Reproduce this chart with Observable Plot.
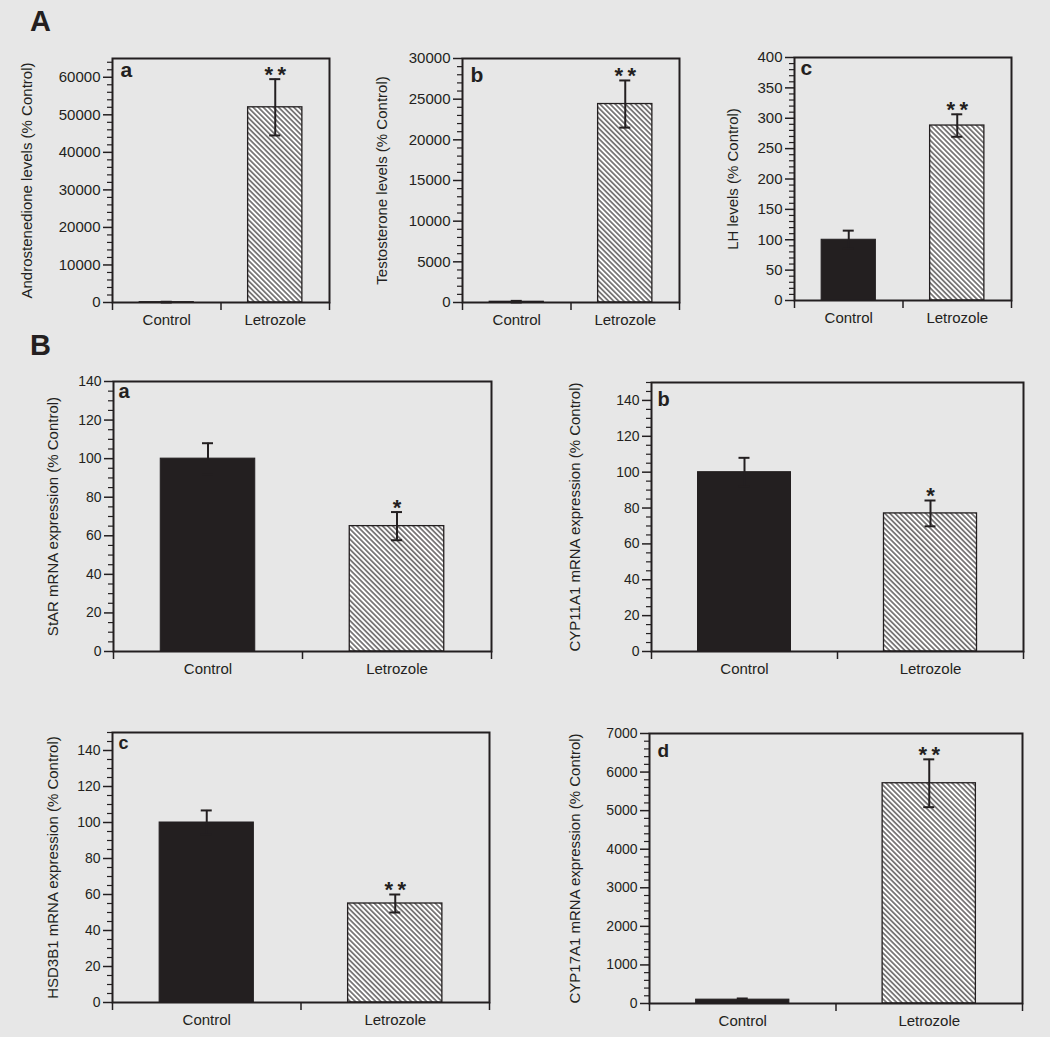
<!DOCTYPE html>
<html><head><meta charset="utf-8">
<script src="https://cdn.jsdelivr.net/npm/d3@7"></script>
<script src="https://cdn.jsdelivr.net/npm/@observablehq/plot@0.6"></script>
<style>
body{margin:0;background:#e7e7e7;}
#fig{position:relative;width:1050px;height:1037px;background:#e7e7e7;overflow:hidden;font-family:"Liberation Sans",Arial,Helvetica,sans-serif;}
#fig svg.p{position:absolute;}
</style></head><body>
<svg width="0" height="0" style="position:absolute"><defs>
<pattern id="hatch" patternUnits="userSpaceOnUse" width="3.6" height="3.6" patternTransform="rotate(-45)">
<rect width="3.6" height="3.6" fill="#ffffff"/><line x1="1.8" y1="-1" x2="1.8" y2="4.6" stroke="#231f20" stroke-width="1.1"/>
</pattern></defs></svg>
<div id="fig"></div>
<script>
// ---- data ----
const groups = ["Control", "Letrozole"];

const androValues = [100, 52000];
const androErrors = [100, 7500];
const androStars = ["", "**"];

const testoValues = [100, 24400];
const testoErrors = [100, 2900];
const testoStars = ["", "**"];

const lhValues = [100, 288];
const lhErrors = [15, 18.5];
const lhStars = ["", "**"];

const starValues = [100, 65];
const starErrors = [8, 7.3];
const starStars = ["", "*"];

const cyp11Values = [100, 77];
const cyp11Errors = [8, 7.2];
const cyp11Stars = ["", "*"];

const hsdValues = [100, 55];
const hsdErrors = [6.7, 5];
const hsdStars = ["", "**"];

const cyp17Values = [100, 5710];
const cyp17Errors = [30, 620];
const cyp17Stars = ["", "**"];

const androTicks = [0, 10000, 20000, 30000, 40000, 50000, 60000];
const testoTicks = [0, 5000, 10000, 15000, 20000, 25000, 30000];
const lhTicks = [0, 50, 100, 150, 200, 250, 300, 350, 400];
const mrnaTicks = [0, 20, 40, 60, 80, 100, 120, 140];
const cyp17Ticks = [0, 1000, 2000, 3000, 4000, 5000, 6000, 7000];

// ---- drawing ----
const FONT = '"Liberation Sans", Arial, Helvetica, sans-serif';
const INK = "#231f20";
const fig = document.getElementById("fig");

function panel(cfg) {
  const {values, errors, stars, yMax, major, minorStep, label, letter, box, frame, tickFont, labelOffset} = cfg;
  const rows = groups.map((g, i) => ({
    group: g, i, value: values[i],
    lo: Math.max(0, values[i] - errors[i]), hi: values[i] + errors[i], star: stars[i]
  }));
  const marginLeft = frame.x0 - box.x, marginRight = box.x + box.w - frame.x1;
  const marginTop = frame.y0 - box.y, marginBottom = box.y + box.h - frame.y1;
  const unitPx = (frame.x1 - frame.x0) / 2;
  const cap = 5.5 / unitPx;
  const minor = d3.range(0, yMax + 1e-9, minorStep).filter(v => !major.some(m => Math.abs(m - v) < 1e-9));
  const svg = Plot.plot({
    width: box.w, height: box.h, marginLeft, marginRight, marginTop, marginBottom,
    x: {domain: [0, 2], axis: null},
    y: {domain: [0, yMax], axis: null},
    style: {background: "transparent", color: INK, fontFamily: FONT, fontSize: tickFont + "px", overflow: "visible"},
    marks: [
      Plot.rectY(rows, {filter: d => d.i === 0, x1: d => d.i + 0.25, x2: d => d.i + 0.75, y: "value", fill: INK, stroke: INK, strokeWidth: 1}),
      Plot.rectY(rows, {filter: d => d.i === 1, x1: d => d.i + 0.25, x2: d => d.i + 0.75, y: "value", fill: "url(#hatch)", stroke: INK, strokeWidth: 1.3}),
      Plot.ruleX(rows, {x: d => d.i + 0.5, y1: "lo", y2: "hi", stroke: INK, strokeWidth: 2}),
      Plot.ruleY(rows, {y: "hi", x1: d => d.i + 0.5 - cap, x2: d => d.i + 0.5 + cap, stroke: INK, strokeWidth: 2}),
      Plot.ruleY(rows, {y: "lo", x1: d => d.i + 0.5 - cap, x2: d => d.i + 0.5 + cap, stroke: INK, strokeWidth: 2}),
      Plot.text(rows, {filter: d => d.star, x: d => d.i + 0.5, y: "hi", text: d => d.star.split("").join("\u2009"), lineAnchor: "bottom", dy: 2.5, fontSize: 22, fontWeight: "bold", fill: INK}),
      Plot.axisY({ticks: major, tickSize: 9, tickPadding: 3, tickFormat: d => String(d), label: null, strokeWidth: 1.5, fontSize: tickFont}),
      Plot.axisY({ticks: minor, tickSize: 5, tickFormat: () => "", label: null, strokeWidth: 1.2}),
      Plot.axisX({ticks: [0, 1, 2], tickSize: 8, tickFormat: () => "", label: null, strokeWidth: 1.5}),
      Plot.axisX({ticks: [0.5, 1.5], tickSize: 0, tickPadding: 12, tickFormat: d => groups[Math.floor(d)], label: null, fontSize: 15}),
      Plot.text([label], {text: d => d, frameAnchor: "left", textAnchor: "middle", rotate: -90, lineAnchor: "top", dx: -labelOffset, fontSize: 15, fill: INK}),
      Plot.frame({stroke: INK, strokeWidth: 2}),
      Plot.text([letter.t], {text: d => d, frameAnchor: "top-left", textAnchor: "start", lineAnchor: "top", dx: letter.dx, dy: letter.dy, fontSize: letter.size, fontWeight: "bold", fill: INK})
    ]
  });
  svg.classList.add("p");
  svg.style.left = box.x + "px";
  svg.style.top = box.y + "px";
  fig.appendChild(svg);
}

panel({values: androValues, errors: androErrors, stars: androStars, yMax: 65000, major: androTicks, minorStep: 2000,
  label: "Androstenedione levels (% Control)", letter: {t: "a", dx: 8, dy: 4, size: 21},
  box: {x: 0, y: 40, w: 345, h: 300}, frame: {x0: 112, x1: 329, y0: 58, y1: 302}, tickFont: 15, labelOffset: 91});
panel({values: testoValues, errors: testoErrors, stars: testoStars, yMax: 30000, major: testoTicks, minorStep: 1000,
  label: "Testosterone levels (% Control)", letter: {t: "b", dx: 8, dy: 9, size: 21},
  box: {x: 350, y: 40, w: 345, h: 300}, frame: {x0: 462, x1: 679, y0: 58, y1: 302}, tickFont: 15, labelOffset: 86});
panel({values: lhValues, errors: lhErrors, stars: lhStars, yMax: 400, major: lhTicks, minorStep: 10,
  label: "LH levels (% Control)", letter: {t: "c", dx: 6, dy: 3, size: 21},
  box: {x: 700, y: 40, w: 350, h: 300}, frame: {x0: 794, x1: 1011, y0: 57, y1: 300}, tickFont: 15, labelOffset: 67});
panel({values: starValues, errors: starErrors, stars: starStars, yMax: 140, major: mrnaTicks, minorStep: 5,
  label: "StAR mRNA expression (% Control)", letter: {t: "a", dx: 5, dy: 2, size: 20},
  box: {x: 0, y: 370, w: 520, h: 310}, frame: {x0: 113, x1: 491, y0: 381, y1: 651}, tickFont: 14, labelOffset: 66});
panel({values: cyp11Values, errors: cyp11Errors, stars: cyp11Stars, yMax: 150, major: mrnaTicks, minorStep: 5,
  label: "CYP11A1 mRNA expression (% Control)", letter: {t: "b", dx: 6, dy: 9, size: 20},
  box: {x: 520, y: 370, w: 530, h: 310}, frame: {x0: 651, x1: 1023, y0: 382, y1: 651}, tickFont: 14, labelOffset: 82});
panel({values: hsdValues, errors: hsdErrors, stars: hsdStars, yMax: 150, major: mrnaTicks, minorStep: 5,
  label: "HSD3B1 mRNA expression (% Control)", letter: {t: "c", dx: 6, dy: 4, size: 18},
  box: {x: 0, y: 720, w: 520, h: 317}, frame: {x0: 112, x1: 489, y0: 732, y1: 1002}, tickFont: 14, labelOffset: 65});
panel({values: cyp17Values, errors: cyp17Errors, stars: cyp17Stars, yMax: 7000, major: cyp17Ticks, minorStep: 200,
  label: "CYP17A1 mRNA expression (% Control)", letter: {t: "d", dx: 8, dy: 10, size: 19},
  box: {x: 520, y: 720, w: 530, h: 317}, frame: {x0: 649, x1: 1022, y0: 733, y1: 1003}, tickFont: 14, labelOffset: 80});

// section labels
const ns = "http://www.w3.org/2000/svg";
const over = document.createElementNS(ns, "svg");
over.setAttribute("width", 1050); over.setAttribute("height", 1037);
over.style.position = "absolute"; over.style.left = "0px"; over.style.top = "0px"; over.style.pointerEvents = "none";
[["A", 30, 31], ["B", 30, 355]].forEach(([t, x, y]) => {
  const e = document.createElementNS(ns, "text");
  e.setAttribute("x", x); e.setAttribute("y", y);
  e.setAttribute("font-family", FONT); e.setAttribute("font-size", 29); e.setAttribute("font-weight", "bold");
  e.setAttribute("fill", INK); e.textContent = t; over.appendChild(e);
});
fig.appendChild(over);
</script>
</body></html>
